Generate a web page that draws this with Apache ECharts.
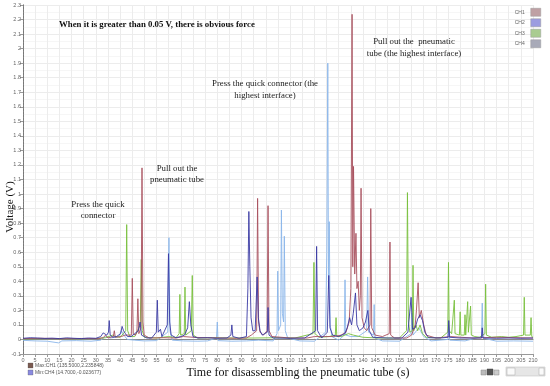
<!DOCTYPE html>
<html><head><meta charset="utf-8">
<script src="https://cdn.jsdelivr.net/npm/echarts@6/dist/echarts.min.js"></script>
<style>html,body{margin:0;padding:0;background:#fff}#c{width:550px;height:386px}</style>
</head><body><div id="c"></div>
<script>
const channelNames = ['CH1','CH2','CH3','CH4'];
const ch1 = [[0,0.006],[8,0.008],[16,0.005],[24,0.007],[31,0.006],[33,0.012],[34,0.03],[35,0.01],[37.2,0.02],[37.6,0.06],[38,0.015],[40.5,0.02],[42,0.03],[44.6,0.03],[45,0.42],[45.4,0.04],[46.3,0.03],[46.9,0.05],[47.3,0.28],[47.7,0.04],[48.6,0.08],[49,1.18],[49.4,0.12],[49.9,0.03],[52,0.01],[58,0.012],[63,0.01],[66,0.02],[70,0.015],[75,0.012],[82,0.01],[88,0.008],[92,0.01],[94,0.03],[96.2,0.06],[96.6,0.97],[97,0.12],[97.6,0.05],[99,0.03],[100.5,0.06],[100.9,0.92],[101.3,0.06],[102.5,0.02],[110,0.01],[117,0.01],[120,0.02],[124,0.02],[128,0.02],[131,0.03],[133,0.05],[134.3,0.12],[135,0.35],[135.5,2.236],[135.8,0.5],[136.1,1.19],[136.6,0.45],[137.1,0.73],[137.5,0.35],[138,0.4],[138.5,0.2],[138.9,0.3],[139.2,1.04],[139.6,0.15],[140.5,0.08],[141.5,0.06],[142.9,0.1],[143.2,0.90],[143.6,0.08],[145,0.03],[148,0.02],[150.8,0.04],[151.1,0.67],[151.4,0.03],[153,0.01],[158,0.01],[160,0.03],[161.5,0.1],[162,0.2],[162.7,0.39],[163.2,0.15],[164,0.2],[165,0.1],[166,0.03],[170,0.01],[176,0.02],[185,0.01],[195,0.015],[210,0.01]];
const ch2 = [[0,0.008],[3,0.012],[6,0.01],[9,0.007],[12,0.009],[15,0.006],[18,0.011],[21,0.008],[24,0.006],[27,0.01],[30,0.008],[32,0.02],[33,0.045],[33.8,0.05],[34.5,0.03],[35.2,0.05],[35.5,0.13],[35.9,0.03],[37,0.015],[38.5,0.02],[40.2,0.04],[40.8,0.09],[41.4,0.06],[42.2,0.04],[43,0.02],[44.5,0.02],[46,0.04],[47.5,0.06],[48.2,0.12],[48.8,0.03],[51,0.01],[53,0.01],[54.9,0.05],[55.3,0.27],[55.7,0.05],[56.6,0.07],[57.2,0.02],[59.4,0.1],[59.9,0.59],[60.4,0.12],[61,0.03],[63,0.012],[65,0.02],[66.5,0.03],[67.8,0.08],[68.5,0.26],[69.1,0.1],[70,0.02],[72,0.01],[76,0.012],[80,0.008],[84,0.01],[85.6,0.03],[86,0.1],[86.4,0.02],[89,0.008],[92,0.02],[92.6,0.35],[93,0.88],[93.4,0.5],[93.9,0.15],[94.6,0.06],[95.6,0.06],[96.4,0.43],[96.9,0.15],[97.6,0.06],[98.5,0.03],[100.6,0.05],[100.9,0.22],[101.3,0.03],[103,0.01],[110,0.008],[116,0.01],[120.5,0.06],[120.9,0.64],[121.3,0.06],[123,0.01],[125.3,0.05],[125.9,0.44],[126.4,0.08],[127.5,0.03],[130,0.02],[132.5,0.04],[133.5,0.08],[134.5,0.15],[135.3,0.1],[136,0.18],[136.9,0.32],[137.5,0.1],[138.5,0.06],[140,0.08],[141,0.12],[142,0.2],[142.6,0.06],[144,0.015],[150,0.01],[156,0.01],[158.5,0.05],[159.8,0.29],[160.4,0.07],[161.5,0.08],[162.5,0.14],[163.5,0.17],[164.5,0.13],[165.5,0.05],[167,0.012],[172,0.01],[175,0.015],[175.3,0.13],[175.7,0.015],[180,0.01],[188.8,0.01],[189.1,0.08],[189.4,0.01],[195,0.008],[200,0.01],[205,0.008],[210,0.01]];
const ch3 = [[0,0.004],[10,0.006],[20,0.005],[30,0.006],[34,0.012],[37,0.03],[38,0.02],[40,0.015],[42.3,0.06],[42.7,0.79],[43.1,0.06],[44,0.02],[46,0.02],[48.3,0.1],[48.7,0.55],[49.1,0.06],[50,0.015],[55,0.01],[60,0.02],[63,0.012],[64.3,0.04],[64.6,0.31],[64.9,0.03],[66.4,0.04],[66.7,0.36],[67,0.03],[69.3,0.06],[69.7,0.44],[70.1,0.03],[72,0.01],[78,0.012],[85,0.01],[95,0.01],[105,0.012],[112,0.01],[119.4,0.04],[119.8,0.53],[120.2,0.04],[122,0.015],[126,0.02],[128.6,0.03],[128.9,0.15],[129.2,0.02],[131,0.02],[134,0.04],[136,0.03],[140,0.015],[146,0.01],[155,0.01],[157.9,0.06],[158.3,1.01],[158.7,0.12],[159.3,0.05],[160.3,0.06],[160.6,0.51],[160.9,0.06],[161.8,0.1],[162.5,0.06],[163.5,0.1],[164.5,0.04],[166,0.015],[172,0.01],[174.9,0.05],[175.2,0.53],[175.5,0.06],[176.5,0.04],[177.3,0.05],[177.6,0.27],[177.9,0.04],[179.7,0.03],[180,0.19],[180.3,0.03],[181.7,0.03],[182,0.17],[182.3,0.03],[182.8,0.04],[183.1,0.26],[183.4,0.05],[184,0.05],[184.3,0.23],[184.6,0.03],[186,0.02],[188,0.015],[190.2,0.04],[190.5,0.38],[190.8,0.03],[193,0.015],[197,0.02],[200,0.015],[203,0.02],[206.1,0.03],[206.4,0.29],[206.7,0.03],[208.9,0.03],[209.2,0.15],[209.5,0.02],[210,0.015]];
const ch4 = [[0,-0.006],[5,-0.01],[10,-0.012],[14.7,-0.0237],[16,-0.01],[22,-0.008],[28,-0.012],[32,-0.005],[34,0.02],[36,0.01],[39.5,0.02],[40.5,0.06],[41.5,0.03],[43,0.0],[46,-0.005],[50,-0.01],[55,-0.008],[59.6,0.05],[60.1,0.70],[60.5,0.06],[61.5,-0.005],[66,-0.01],[72,-0.012],[76,-0.01],[79.7,0.01],[80,0.12],[80.3,-0.008],[86,-0.012],[92,-0.01],[97,-0.005],[103,-0.01],[104.6,0.04],[104.9,0.47],[105.2,0.06],[106.1,0.1],[106.4,0.89],[106.8,0.18],[107.3,0.12],[107.6,0.71],[108,0.06],[109,0.01],[114,-0.01],[120,-0.012],[124.6,0.05],[125.1,0.6],[125.5,1.90],[125.8,0.35],[126.1,0.81],[126.5,0.1],[127.2,0.02],[130,-0.005],[132.3,0.03],[132.6,0.41],[132.9,0.03],[135,0.02],[138,0.02],[141.5,0.06],[141.9,0.43],[142.3,0.05],[144.3,0.03],[144.6,0.24],[144.9,0.01],[148,-0.01],[155,-0.012],[159.8,0.04],[160.2,0.18],[160.6,0.03],[163,0.08],[165,0.02],[168,-0.01],[175,0.0],[175.3,0.1],[175.7,-0.005],[182,-0.01],[188.8,0.02],[189.1,0.25],[189.4,0.01],[195,-0.012],[202,-0.01],[210,-0.012]];
const lineColors = ['#a8505e','#3a3aa4','#78bf3c','#8ab6ea'];
const legendColors = ['#bfa0a4','#9c9ce0','#a9cc90','#a8aab8'];
const xTicks = {min:0, max:210, step:5};
const yTicks = {min:-0.1, max:2.3, step:0.1};

const serif = '"Liberation Serif", "DejaVu Serif", serif';
const chart = echarts.init(document.getElementById('c'), null, {renderer:'canvas'});
const seriesData = [ch1, ch2, ch3, ch4];
const drawOrder = [3, 2, 0, 1];
const gText = (o) => Object.assign({type:'text', z:100, zlevel:0}, o);
chart.setOption({
  animation:false,
  backgroundColor:'#fff',
  grid:{left:23, right:17, top:5, bottom:32},
  legend:{
    orient:'vertical', right:4, top:3, itemWidth:10, itemHeight:8, itemGap:2, align:'right',
    icon:'rect', textStyle:{fontSize:5, color:'#666', padding:[0,1,0,0]},
    data: channelNames.map((n,i)=>({name:n, itemStyle:{color:legendColors[i], borderColor:'#999', borderWidth:0.5}}))
  },
  xAxis:[{
    type:'value', min:xTicks.min, max:xTicks.max, interval:xTicks.step,
    axisLine:{show:true, onZero:false, lineStyle:{color:'#999', width:1}},
    axisTick:{show:true, length:3, lineStyle:{color:'#999'}},
    axisLabel:{fontSize:5.5, color:'#666', margin:3, hideOverlap:false, fontFamily:'Arial'},
    splitLine:{show:true, lineStyle:{color:'#ececec', width:1}}
  },{
    type:'value', min:xTicks.min, max:xTicks.max, position:'top',
    axisLine:{show:true, lineStyle:{color:'#888', width:1}},
    axisTick:{show:false}, axisLabel:{show:false}, splitLine:{show:false}
  }],
  yAxis:[{
    type:'value', min:yTicks.min, max:yTicks.max, interval:yTicks.step,
    axisLine:{show:true, onZero:false, lineStyle:{color:'#999'}},
    axisTick:{show:true, length:3, lineStyle:{color:'#999'}},
    axisLabel:{fontSize:5.5, color:'#666', margin:2, fontFamily:'Arial',
      formatter:v=>String(+v.toFixed(1))},
    splitLine:{show:true, lineStyle:{color:'#ececec'}},
    minorTick:{show:false, splitNumber:2},
    minorSplitLine:{show:true, lineStyle:{color:'#f6f6f6'}}
  },{
    type:'value', min:yTicks.min, max:yTicks.max, position:'right',
    axisLine:{show:true, lineStyle:{color:'#777', type:[2,1], width:1}},
    axisTick:{show:false}, axisLabel:{show:false}, splitLine:{show:false}
  }],
  series: drawOrder.map(i=>({
    name:channelNames[i], type:'line', data:seriesData[i], showSymbol:false, symbol:'none',
    lineStyle:{width:0.9, color:lineColors[i]}, itemStyle:{color:lineColors[i]},
    xAxisIndex:0, yAxisIndex:0, z:2+drawOrder.indexOf(i)
  })),
  graphic:[
    gText({x:59, y:25, style:{text:'When it is greater than 0.05 V, there is obvious force', font:'bold 8.8px '+serif, fill:'#111', textVerticalAlign:'middle'}}),
    gText({x:265, y:78, style:{text:'Press the quick connector (the\nhighest interface)', font:'8.8px '+serif, fill:'#222', textAlign:'center', lineHeight:12}}),
    gText({x:414, y:36, style:{text:'Pull out the  pneumatic\ntube (the highest interface)', font:'8.8px '+serif, fill:'#222', textAlign:'center', lineHeight:12}}),
    gText({x:98, y:199, style:{text:'Press the quick\nconnector', font:'8.8px '+serif, fill:'#222', textAlign:'center', lineHeight:11}}),
    gText({x:177, y:163, style:{text:'Pull out the\npneumatic tube', font:'8.8px '+serif, fill:'#222', textAlign:'center', lineHeight:11}}),
    gText({x:10, y:207, rotation:Math.PI/2, style:{text:'Voltage (V)', font:'11px '+serif, fill:'#111', textAlign:'center', textVerticalAlign:'middle'}}),
    gText({x:298, y:373, style:{text:'Time for disassembling the pneumatic tube (s)', font:'12px '+serif, fill:'#111', textAlign:'center', textVerticalAlign:'middle'}}),
    {type:'rect', z:100, shape:{x:28, y:363, width:5, height:5}, style:{fill:'#7a5a50', stroke:'#555', lineWidth:0.3}},
    gText({x:35, y:365.5, style:{text:'Max:CH1 (135.5000,2.235848)', font:'5px Arial', fill:'#555', textVerticalAlign:'middle'}}),
    {type:'rect', z:100, shape:{x:28, y:370, width:5, height:5}, style:{fill:'#8a8ae0', stroke:'#555', lineWidth:0.3}},
    gText({x:35, y:372.5, style:{text:'Min:CH4 (14.7000,-0.023677)', font:'5px Arial', fill:'#555', textVerticalAlign:'middle'}}),
    {type:'rect', z:100, shape:{x:481, y:370, width:5, height:5}, style:{fill:'#bbb', stroke:'#888', lineWidth:0.5}},
    {type:'rect', z:100, shape:{x:487, y:369, width:6, height:6}, style:{fill:'#555', stroke:'#444', lineWidth:0.5}},
    {type:'rect', z:100, shape:{x:494, y:370, width:5, height:5}, style:{fill:'#ccc', stroke:'#888', lineWidth:0.5}},
    {type:'rect', z:100, shape:{x:506, y:367, width:39, height:9}, style:{fill:'#e6e6e6', stroke:'#bbb', lineWidth:0.5}},
    {type:'rect', z:100, shape:{x:507, y:368, width:8, height:7}, style:{fill:'#fafafa', stroke:'#aaa', lineWidth:0.5}},
    {type:'rect', z:100, shape:{x:539, y:368, width:5, height:7}, style:{fill:'#fafafa', stroke:'#aaa', lineWidth:0.5}}
  ]
});
</script></body></html>
